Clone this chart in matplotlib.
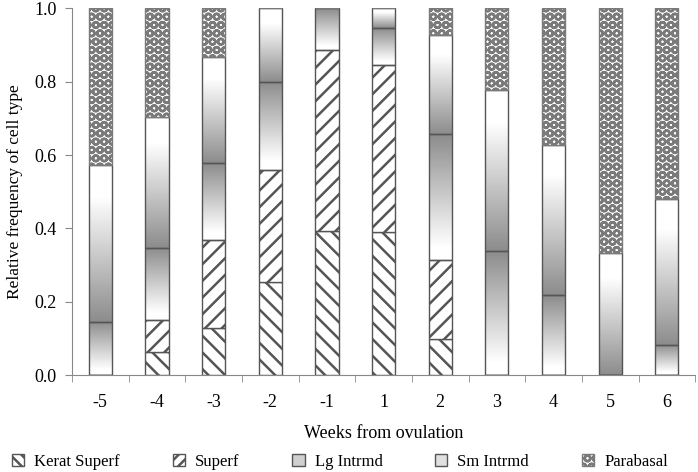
import numpy as np
import matplotlib
matplotlib.use('Agg')
from matplotlib import pyplot as plt
from matplotlib.patches import Patch

# relative frequency of each cell type per week
weeks = ['-5', '-4', '-3', '-2', '-1', '1', '2', '3', '4', '5', '6']
kerat_superf = [0, 0.064, 0.127, 0.255, 0.393, 0.391, 0.097, 0, 0, 0, 0]
superf = [0, 0.086, 0.241, 0.304, 0.495, 0.455, 0.217, 0, 0, 0, 0]
lg_intrmd = [0.145, 0.197, 0.210, 0.241, 0.112, 0.100, 0.343, 0.338, 0.218, 0, 0.082]
sm_intrmd = [0.428, 0.358, 0.289, 0.200, 0, 0.054, 0.271, 0.440, 0.410, 0.332, 0.397]
parabasal = [0.427, 0.295, 0.133, 0, 0, 0, 0.072, 0.222, 0.372, 0.668, 0.521]

plt.rcParams['font.family'] = ['Liberation Serif', 'DejaVu Serif']
plt.rcParams['hatch.linewidth'] = 1.8

edge = '#555555'
dots = '#7a7a7a'
fig = plt.figure(figsize=(6.98, 4.72), dpi=100)
ax = fig.add_axes([0.103, 0.2055, 0.893, 0.7765])

x = np.arange(len(weeks))
w = 0.41
bottom = np.zeros(len(weeks))


def stack(vals, **kw):
    global bottom
    kw.setdefault('edgecolor', edge)
    bars = ax.bar(x, vals, w, bottom=bottom, linewidth=1.0, zorder=2, **kw)
    bottom = bottom + np.array(vals)
    return bars


def shade(bars, rising):
    # vertical grey gradient drawn under the (transparent) bar
    t = np.linspace(0, 1, 200)
    if rising:
        v = 1 - 0.45 * np.clip((t - 0.1) / 0.9, 0, 1)
    else:
        v = 1 - 0.45 * np.clip((0.8 - t) / 0.8, 0, 1)
    img = v.reshape(-1, 1)
    for p in bars.patches:
        if p.get_height() <= 0:
            continue
        ax.imshow(img, cmap='gray', vmin=0, vmax=1, origin='lower',
                  aspect='auto', interpolation='bilinear', zorder=1,
                  extent=[p.get_x(), p.get_x() + p.get_width(),
                          p.get_y(), p.get_y() + p.get_height()])


stack(kerat_superf, color='white', hatch='\\\\')
stack(superf, color='white', hatch='//')
b_lg = stack(lg_intrmd, facecolor='none')
shade(b_lg, True)
b_sm = stack(sm_intrmd, facecolor='none')
shade(b_sm, False)
stack(parabasal, facecolor='white', edgecolor=dots, hatch='OO')

ax.set_xlim(-0.5, len(weeks) - 0.5)
ax.set_ylim(0, 1)
ax.set_xticks(x)
ax.set_xticklabels(weeks)
ax.set_xticks(np.arange(len(weeks) + 1) - 0.5, minor=True)
ax.tick_params(axis='x', which='major', length=0, pad=14, labelsize=13)
ax.tick_params(axis='x', which='minor', length=5, color='#888888')
ax.set_yticks(np.arange(0, 1.01, 0.2))
ax.set_yticklabels(['%.1f' % v for v in np.arange(0, 1.01, 0.2)])
ax.tick_params(axis='y', length=5, color='#888888', labelsize=13, pad=6)
for s in ['top', 'right']:
    ax.spines[s].set_visible(False)
for s in ['left', 'bottom']:
    ax.spines[s].set_color('#888888')

ax.set_xlabel('Weeks from ovulation', fontsize=13, labelpad=10)
ax.set_ylabel('Relative frequency of cell type', fontsize=12.5, labelpad=8)

handles = [
    Patch(facecolor='white', edgecolor=edge, hatch='\\\\\\'),
    Patch(facecolor='white', edgecolor=edge, hatch='///'),
    Patch(facecolor='#d0d0d0', edgecolor=edge),
    Patch(facecolor='#e0e0e0', edgecolor=edge),
    Patch(facecolor='white', edgecolor=dots, hatch='OO'),
]
labels = ['Kerat Superf', 'Superf', 'Lg Intrmd', 'Sm Intrmd', 'Parabasal']
fig.legend(handles, labels, loc='center', bbox_to_anchor=(0.487, 0.022),
           ncol=5, frameon=False, fontsize=12, handlelength=0.75,
           handleheight=0.75, columnspacing=3.15, handletextpad=0.6,
           borderpad=0, borderaxespad=0)

fig.savefig('out.png', dpi=100)
